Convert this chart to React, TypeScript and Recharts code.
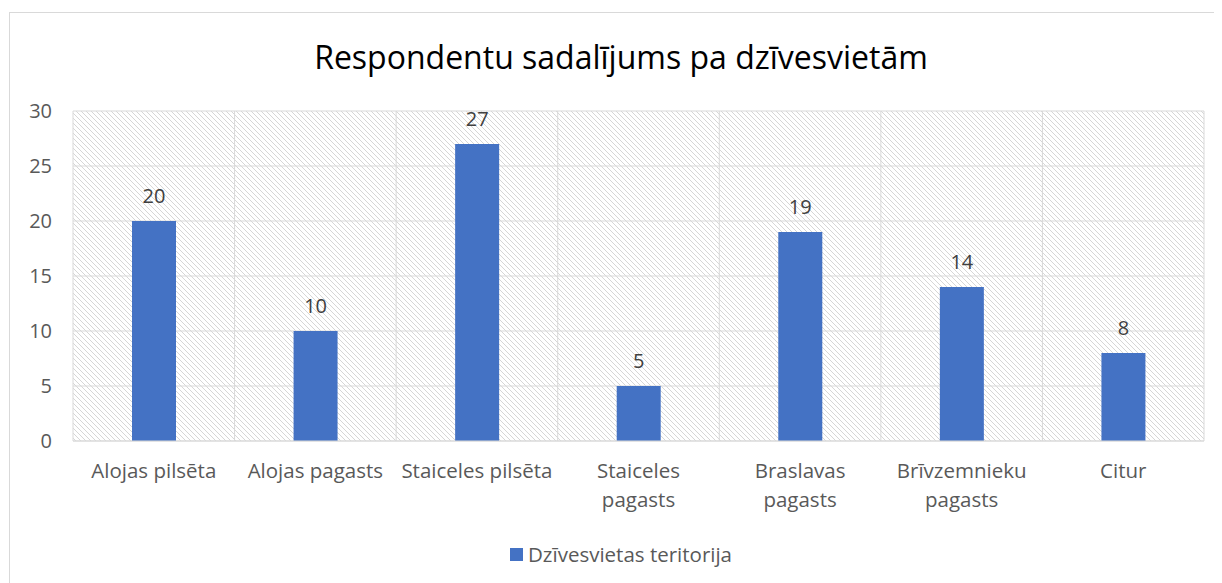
import React from "react";
import { BarChart, Bar, XAxis, YAxis, CartesianGrid, LabelList, Legend } from "recharts";

const categories = [
  "Alojas pilsēta",
  "Alojas pagasts",
  "Staiceles pilsēta",
  "Staiceles pagasts",
  "Braslavas pagasts",
  "Brīvzemnieku pagasts",
  "Citur",
];
const tickLines = [
  ["Alojas pilsēta"],
  ["Alojas pagasts"],
  ["Staiceles pilsēta"],
  ["Staiceles", "pagasts"],
  ["Braslavas", "pagasts"],
  ["Brīvzemnieku", "pagasts"],
  ["Citur"],
];
const values = [20, 10, 27, 5, 19, 14, 8];
const yTicks = [0, 5, 10, 15, 20, 25, 30];
const seriesName = "Dzīvesvietas teritorija";
const title = "Respondentu sadalījums pa dzīvesvietām";

const data = categories.map((c, i) => ({ name: c, value: values[i], idx: i }));

const FONT = "'Open Sans', sans-serif";

const XTick = (props: any) => {
  const { x, y, payload } = props;
  const lines = tickLines[payload.index] || [String(payload.value)];
  return (
    <g transform={`translate(${x},${y})`}>
      {lines.map((l: string, i: number) => (
        <text key={i} x={0} y={i * 29} dy={7} textAnchor="middle" fill="#595959" fontSize={20.5} fontFamily={FONT}>
          {l}
        </text>
      ))}
    </g>
  );
};

const LegendContent = () => (
  <div style={{ height: 28, display: "flex", alignItems: "center", justifyContent: "center", fontFamily: FONT, fontSize: 20.5, color: "#595959", paddingLeft: 12 }}>
    <span style={{ display: "inline-block", width: 13, height: 13, background: "#4472C4", marginRight: 5 }} />
    <span>{seriesName}</span>
  </div>
);

export default function App() {
  return (
    <div style={{ position: "relative", width: 1214, height: 575, overflow: "hidden", background: "#fff" }}>
      <svg width={0} height={0} style={{ position: "absolute" }}>
        <defs>
          <pattern id="hatch" patternUnits="userSpaceOnUse" width={5} height={5}>
            <rect width={5} height={5} fill="#ffffff" />
            <path d="M0,0 L5,5 M-1,4 L1,6 M4,-1 L6,1" stroke="#d6d6d6" strokeWidth={1} />
          </pattern>
        </defs>
      </svg>
      <div style={{ position: "absolute", left: 1, top: 4, width: 1240, height: 600, border: "1px solid #d9d9d9", boxSizing: "border-box" }} />
      <div style={{ position: "absolute", left: 0, top: 27, width: 1226, textAlign: "center", fontFamily: FONT, fontSize: 32, color: "#000", lineHeight: "44px" }}>
        {title}
      </div>
      <div style={{ position: "absolute", left: 0, top: 0 }}>
        <BarChart width={1214} height={575} data={data} margin={{ top: 103, right: 18, bottom: 0, left: 0 }}>
          <CartesianGrid
            stroke="#d9d9d9"
            fill="url(#hatch)"
            fillOpacity={1}
            verticalCoordinatesGenerator={({ offset }: any) =>
              categories.map((_, i) => offset.left + (i * offset.width) / categories.length).concat([offset.left + offset.width])
            }
          />
          <XAxis
            dataKey="name"
            height={114}
            tickLine={false}
            axisLine={{ stroke: "#d9d9d9" }}
            tick={<XTick />}
            tickMargin={24}
            interval={0}
          />
          <YAxis
            domain={[0, 30]}
            ticks={yTicks}
            width={65}
            tickLine={false}
            axisLine={false}
            tickSize={0}
            tickMargin={21}
            tick={{ fill: "#595959", fontSize: 20, fontFamily: FONT }}
            interval={0}
          />
          <Legend content={<LegendContent />} wrapperStyle={{ position: "absolute", top: 532, left: 0, width: 1214, height: 28 }} />
          <Bar dataKey="value" name={seriesName} fill="#4472C4" barSize={44} isAnimationActive={false}>
            <LabelList dataKey="value" position="top" offset={18} fill="#404040" fontSize={20} fontFamily={FONT} />
          </Bar>
        </BarChart>
      </div>
    </div>
  );
}
